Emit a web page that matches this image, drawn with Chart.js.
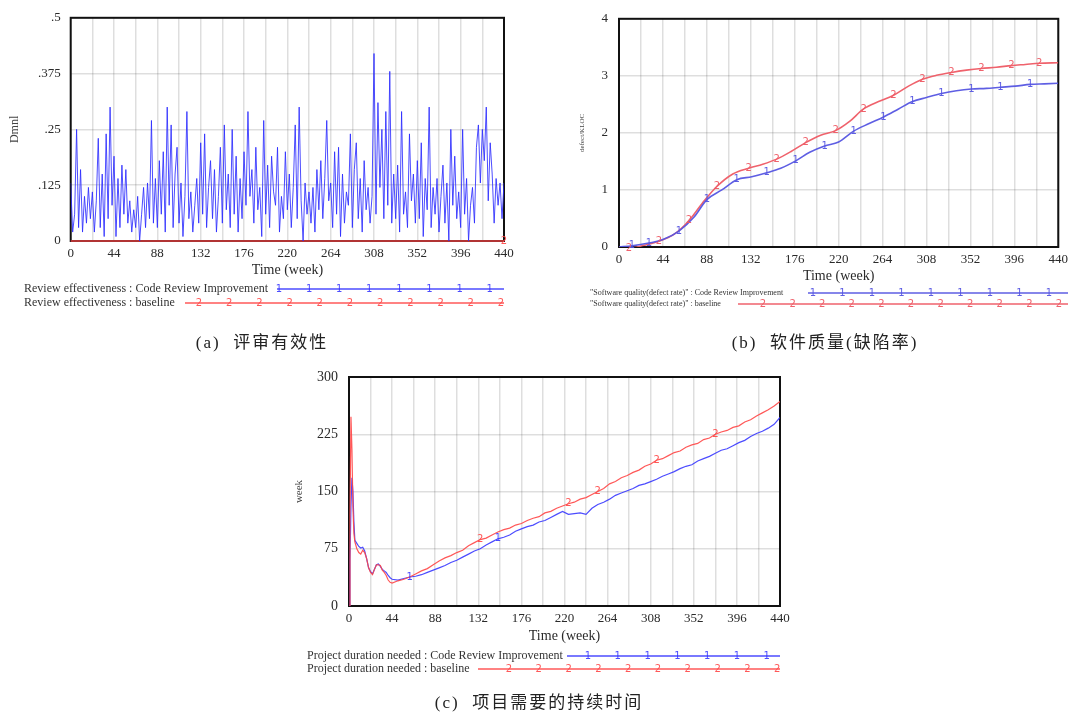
<!DOCTYPE html>
<html>
<head>
<meta charset="utf-8">
<script src="https://cdn.jsdelivr.net/npm/chart.js@4.4.1/dist/chart.umd.min.js"></script>
<style>
  body { margin: 0; background: #fff; width: 1073px; height: 714px; overflow: hidden; position: relative; }
  canvas { position: absolute; left: 0; top: 0; }
  .cap { position: absolute; width: 320px; text-align: center; white-space: pre;
         font-family: "Liberation Serif", "Noto Sans CJK SC", serif; font-size: 17px;
         line-height: 22px; color: #222; letter-spacing: 2px; }
</style>
</head>
<body>
<canvas id="chartA" width="1073" height="714"></canvas>
<canvas id="chartB" width="1073" height="714"></canvas>
<canvas id="chartC" width="1073" height="714"></canvas>
<div class="cap" style="left:102px; top:332px;">(a)  评审有效性</div>
<div class="cap" style="left:665px; top:332px;">(b)  软件质量(缺陷率)</div>
<div class="cap" style="left:379px; top:692px;">(c)  项目需要的持续时间</div>

<script>
// time axis: grid every 22 weeks, labels every 44
const timeTicks = [0, 22, 44, 66, 88, 110, 132, 154, 176, 198, 220, 242, 264, 286, 308, 330, 352, 374, 396, 418, 440];

// (a) review effectiveness, one value every 2 weeks
const reviewImproved = [
    0.13, 0.02, 0.06, 0.25, 0.03, 0.16, 0.02, 0.10, 0.04, 0.12, 0.05,
    0.11, 0.02, 0.09, 0.23, 0.03, 0.15, 0.01, 0.24, 0.05, 0.30, 0.08,
    0.19, 0.01, 0.14, 0.03, 0.17, 0.06, 0.16, 0.04, 0.09, 0.02, 0.07,
    0.03, 0.10, 0.00, 0.06, 0.12, 0.03, 0.13, 0.05, 0.27, 0.04, 0.14,
    0.03, 0.18, 0.06, 0.20, 0.02, 0.30, 0.08, 0.26, 0.03, 0.15, 0.21,
    0.04, 0.13, 0.01, 0.10, 0.29, 0.05, 0.11, 0.02, 0.08, 0.14, 0.04,
    0.22, 0.06, 0.24, 0.03, 0.12, 0.18, 0.05, 0.16, 0.02, 0.10, 0.21,
    0.04, 0.26, 0.07, 0.15, 0.03, 0.25, 0.06, 0.19, 0.02, 0.14, 0.05,
    0.20, 0.08, 0.29, 0.10, 0.16, 0.04, 0.21, 0.07, 0.12, 0.01, 0.27,
    0.06, 0.17, 0.03, 0.19, 0.11, 0.08, 0.21, 0.02, 0.10, 0.05, 0.20,
    0.07, 0.15, 0.03, 0.12, 0.26, 0.05, 0.30, 0.09, 0.00, 0.13, 0.06,
    0.11, 0.04, 0.12, 0.02, 0.16, 0.07, 0.18, 0.05, 0.14, 0.27, 0.09,
    0.13, 0.03, 0.20, 0.06, 0.21, 0.01, 0.15, 0.04, 0.11, 0.08, 0.24,
    0.03, 0.16, 0.22, 0.05, 0.14, 0.02, 0.18, 0.07, 0.12, 0.04, 0.10,
    0.42, 0.06, 0.31, 0.12, 0.25, 0.05, 0.29, 0.08, 0.38, 0.04, 0.15,
    0.05, 0.17, 0.02, 0.29, 0.06, 0.11, 0.03, 0.24, 0.09, 0.15, 0.04,
    0.18, 0.05, 0.22, 0.01, 0.14, 0.07, 0.30, 0.03, 0.12, 0.06, 0.14,
    0.02, 0.10, 0.17, 0.04, 0.13, 0.00, 0.25, 0.08, 0.19, 0.05, 0.11,
    0.03, 0.25, 0.06, 0.14, 0.00, 0.08, 0.12, 0.04, 0.21, 0.26, 0.13,
    0.25, 0.18, 0.30, 0.09, 0.22, 0.15, 0.04, 0.14, 0.08, 0.13, 0.05,
    0.13
];
const reviewBaselineWeeks = [0, 440];
const reviewBaseline = [0, 0];

// (b) software quality (defect rate)
const qualityImprovedWeeks = [0, 13, 30, 44, 60, 75, 88, 103, 118, 133, 148, 162, 177, 191, 206, 220,
    235, 250, 265, 280, 294, 308, 323, 338, 353, 368, 382, 397, 412, 426, 440];
const qualityImproved = [0.00, 0.02, 0.07, 0.13, 0.28, 0.52, 0.83, 1.00, 1.18, 1.23, 1.30, 1.38, 1.51, 1.66, 1.77, 1.84,
    2.03, 2.16, 2.28, 2.42, 2.55, 2.62, 2.69, 2.74, 2.77, 2.78, 2.80, 2.82, 2.85, 2.86, 2.87];
const qualityImprovedMarks = [13, 30, 60, 88, 118, 148, 177, 206, 235, 265, 294, 323, 353, 382, 412];

const qualityBaselineWeeks = [0, 10, 25, 40, 55, 70, 84, 98, 114, 130, 144, 158, 172, 187, 202, 217,
    231, 245, 260, 275, 290, 304, 318, 333, 348, 363, 378, 393, 407, 421, 440];
const qualityBaseline = [0.00, -0.02, 0.03, 0.10, 0.22, 0.46, 0.78, 1.06, 1.28, 1.38, 1.45, 1.54, 1.67, 1.83, 1.96, 2.04,
    2.20, 2.42, 2.55, 2.66, 2.82, 2.94, 3.01, 3.06, 3.10, 3.13, 3.15, 3.18, 3.20, 3.22, 3.23];
const qualityBaselineMarks = [10, 40, 70, 98, 130, 158, 187, 217, 245, 275, 304, 333, 363, 393, 421];

// (c) project duration needed
const durationWeeks = [0, 1, 2, 3, 4, 5, 6, 8, 10, 12, 14, 16, 18, 20, 22, 24, 26, 28, 30, 32, 34, 36, 38, 40, 42, 44];
for (let w = 50; w <= 440; w += 6) durationWeeks.push(w);
const durationImproved = [
    0, 60, 130, 168, 150, 110, 86, 82, 78, 76, 77, 72, 62, 50, 45, 42, 48, 54, 55, 52, 48, 46, 44, 40, 37, 35,
    34, 36, 38, 39, 41, 44, 47, 50, 53, 57,
    60, 64, 68, 72, 75, 80, 84, 88, 90, 93,
    98, 101, 104, 106, 110, 112, 116, 120, 124, 120,
    121, 122, 120, 128, 133, 136, 140, 145, 148, 151,
    154, 158, 160, 163, 166, 170, 173, 176, 180, 183,
    185, 190, 193, 196, 200, 204, 206, 210, 214, 217,
    222, 226, 229, 233, 238, 247
];
const durationBaseline = [
    0, 120, 248, 205, 130, 95, 84, 75, 70, 68, 73, 70, 62, 50, 44, 41, 48, 54, 54, 53, 47, 44, 40, 34, 31, 30,
    33, 35, 38, 42, 46, 49, 54, 59, 63, 66,
    70, 73, 79, 83, 87, 89, 93, 97, 100, 102,
    106, 108, 112, 115, 117, 122, 124, 128, 131, 134,
    136, 140, 142, 146, 150, 154, 160, 163, 168, 171,
    175, 178, 183, 186, 191, 193, 197, 201, 203, 208,
    211, 213, 218, 220, 225, 228, 230, 234, 236, 241,
    244, 249, 253, 257, 262, 268
];
const durationImprovedMarks = [62, 152];
const durationBaselineMarks = [134, 224, 254, 314, 374];

const BLUE = 'rgba(45,45,255,0.85)';
const RED = 'rgba(255,70,70,0.9)';
const TEXT = '#2a2a2a';
const GRID = 'rgba(0,0,0,0.13)';
const SERIF = '"Liberation Serif", "Times New Roman", serif';

const toPoints = (weeks, values) => values.map((v, i) => ({ x: weeks[i], y: v }));

// black frame round the plot area (under the lines)
const framePlugin = {
    id: 'frame',
    beforeDatasetsDraw(chart) {
        const { ctx, chartArea: a } = chart;
        ctx.save();
        ctx.strokeStyle = '#111';
        ctx.lineWidth = 2;
        ctx.strokeRect(a.left, a.top, a.right - a.left, a.bottom - a.top);
        ctx.restore();
    }
};

// the "1" / "2" numbers that Vensim puts on its lines
const seriesMarks = {
    id: 'seriesMarks',
    afterDatasetsDraw(chart) {
        const ctx = chart.ctx;
        ctx.save();
        ctx.font = '10px "DejaVu Sans", sans-serif';
        ctx.textAlign = 'center';
        ctx.textBaseline = 'middle';
        chart.data.datasets.forEach((ds, i) => {
            if (!ds.markWeeks) return;
            const meta = chart.getDatasetMeta(i);
            ctx.fillStyle = ds.borderColor;
            ds.data.forEach((p, j) => {
                if (ds.markWeeks.includes(p.x)) {
                    const el = meta.data[j];
                    ctx.fillText(ds.markChar, el.x, el.y);
                }
            });
        });
        ctx.restore();
    }
};

// Vensim style legend rows under the axis
const legendRows = {
    id: 'legendRows',
    afterDraw(chart, args, opts) {
        if (!opts.rows) return;
        const ctx = chart.ctx;
        ctx.save();
        ctx.textBaseline = 'middle';
        opts.rows.forEach(row => {
            ctx.font = opts.font;
            ctx.fillStyle = '#333';
            ctx.textAlign = 'left';
            ctx.fillText(row.text, opts.textX, row.y);
            ctx.strokeStyle = row.color;
            ctx.lineWidth = 1.3;
            ctx.beginPath();
            ctx.moveTo(row.x0, row.y);
            ctx.lineTo(opts.x1, row.y);
            ctx.stroke();
            ctx.fillStyle = row.color;
            ctx.font = '10px "DejaVu Sans", sans-serif';
            ctx.textAlign = 'center';
            for (let k = 0; k < row.count; k++) {
                ctx.fillText(row.mark, row.first + k * row.step, row.y);
            }
        });
        ctx.restore();
    }
};

Chart.register(framePlugin, seriesMarks, legendRows);

function makeChart(id, cfg) {
    return new Chart(document.getElementById(id), {
        type: 'line',
        data: { datasets: cfg.datasets },
        options: {
            responsive: false,
            animation: false,
            layout: { padding: cfg.padding },
            elements: { point: { radius: 0 }, line: { tension: 0 } },
            plugins: {
                legend: { display: false },
                tooltip: { enabled: false },
                legendRows: cfg.legend
            },
            scales: {
                x: {
                    type: 'linear',
                    min: 0,
                    max: 440,
                    afterFit: (s) => { s.height = 40; },
                    afterBuildTicks: (s) => { s.ticks = timeTicks.map(v => ({ value: v })); },
                    ticks: {
                        autoSkip: false,
                        maxRotation: 0,
                        padding: 5,
                        color: TEXT,
                        font: { family: SERIF, size: 13 },
                        callback: (v) => (v % 44 === 0 ? v : '')
                    },
                    grid: { color: GRID, lineWidth: 1.5, drawTicks: false },
                    border: { display: false },
                    title: {
                        display: true,
                        text: 'Time (week)',
                        color: TEXT,
                        font: { family: SERIF, size: 14 },
                        padding: { top: 0, bottom: cfg.xTitlePad }
                    }
                },
                y: {
                    min: cfg.yMin,
                    max: cfg.yMax,
                    afterFit: (s) => { s.width = cfg.yWidth; },
                    ticks: {
                        stepSize: cfg.yStep,
                        padding: cfg.yTickPad,
                        color: TEXT,
                        font: { family: SERIF, size: cfg.yFont },
                        callback: cfg.yLabel
                    },
                    grid: { color: GRID, lineWidth: 1.5, drawTicks: false },
                    border: { display: false },
                    title: {
                        display: true,
                        text: cfg.yTitle,
                        color: '#444',
                        font: { family: SERIF, size: cfg.yTitleSize },
                        padding: { top: cfg.yTitlePad, bottom: 0 }
                    }
                }
            }
        }
    });
}

// (a)
makeChart('chartA', {
    padding: { left: 0, top: 10, right: 1073 - 504, bottom: 714 - 241 - 40 },
    yMin: 0, yMax: 0.5, yStep: 0.125, yWidth: 70.7, yTickPad: 10, yFont: 13,
    yLabel: (v) => (v === 0 ? '0' : String(v).replace(/^0/, '')),
    yTitle: 'Dmnl', yTitleSize: 12, yTitlePad: 8, xTitlePad: 2,
    datasets: [
        {
            data: toPoints(reviewImproved.map((_, i) => i * 2), reviewImproved),
            borderColor: BLUE, borderWidth: 1
        },
        {
            data: toPoints(reviewBaselineWeeks, reviewBaseline),
            borderColor: RED, borderWidth: 1.5, clip: 3,
            markWeeks: [440], markChar: '2'
        }
    ],
    legend: {
        font: '12px ' + SERIF, textX: 24, x1: 504,
        rows: [
            { text: 'Review effectiveness : Code Review Improvement', y: 289, x0: 277, color: BLUE, mark: '1', first: 279, step: 30.1, count: 8 },
            { text: 'Review effectiveness : baseline', y: 303, x0: 185, color: RED, mark: '2', first: 199, step: 30.2, count: 11 }
        ]
    }
});

// (b)
makeChart('chartB', {
    padding: { left: 570, top: 12, right: 1073 - 1063, bottom: 714 - 247 - 40 },
    yMin: 0, yMax: 4, yStep: 1, yWidth: 49, yTickPad: 11, yFont: 13,
    yLabel: (v) => v,
    yTitle: 'defect/KLOC', yTitleSize: 7, yTitlePad: 8, xTitlePad: 2,
    datasets: [
        {
            data: toPoints(qualityImprovedWeeks, qualityImproved),
            borderColor: 'rgba(85,85,225,0.95)', borderWidth: 1.6,
            cubicInterpolationMode: 'monotone',
            markWeeks: qualityImprovedMarks, markChar: '1'
        },
        {
            data: toPoints(qualityBaselineWeeks, qualityBaseline),
            borderColor: 'rgba(238,90,100,0.95)', borderWidth: 1.6,
            cubicInterpolationMode: 'monotone',
            markWeeks: qualityBaselineMarks, markChar: '2'
        }
    ],
    legend: {
        font: '8px ' + SERIF, textX: 590, x1: 1068,
        rows: [
            { text: '"Software quality(defect rate)" : Code Review Improvement', y: 293, x0: 808, color: 'rgba(85,85,225,0.95)', mark: '1', first: 813, step: 29.5, count: 9 },
            { text: '"Software quality(defect rate)" : baseline', y: 304, x0: 738, color: 'rgba(238,90,100,0.95)', mark: '2', first: 763, step: 29.6, count: 11 }
        ]
    }
});

// (c)
makeChart('chartC', {
    padding: { left: 290, top: 377, right: 1073 - 780, bottom: 714 - 606 - 40 },
    yMin: 0, yMax: 300, yStep: 75, yWidth: 59, yTickPad: 11, yFont: 14,
    yLabel: (v) => v,
    yTitle: 'week', yTitleSize: 11, yTitlePad: 3, xTitlePad: 1,
    datasets: [
        {
            data: toPoints(durationWeeks, durationBaseline),
            borderColor: RED, borderWidth: 1.2,
            markWeeks: durationBaselineMarks, markChar: '2'
        },
        {
            data: toPoints(durationWeeks, durationImproved),
            borderColor: BLUE, borderWidth: 1.2,
            markWeeks: durationImprovedMarks, markChar: '1'
        }
    ],
    legend: {
        font: '12px ' + SERIF, textX: 307, x1: 780,
        rows: [
            { text: 'Project duration needed : Code Review Improvement', y: 656, x0: 567, color: BLUE, mark: '1', first: 588, step: 29.8, count: 7 },
            { text: 'Project duration needed : baseline', y: 669, x0: 478, color: RED, mark: '2', first: 509, step: 29.8, count: 10 }
        ]
    }
});
</script>
</body>
</html>
